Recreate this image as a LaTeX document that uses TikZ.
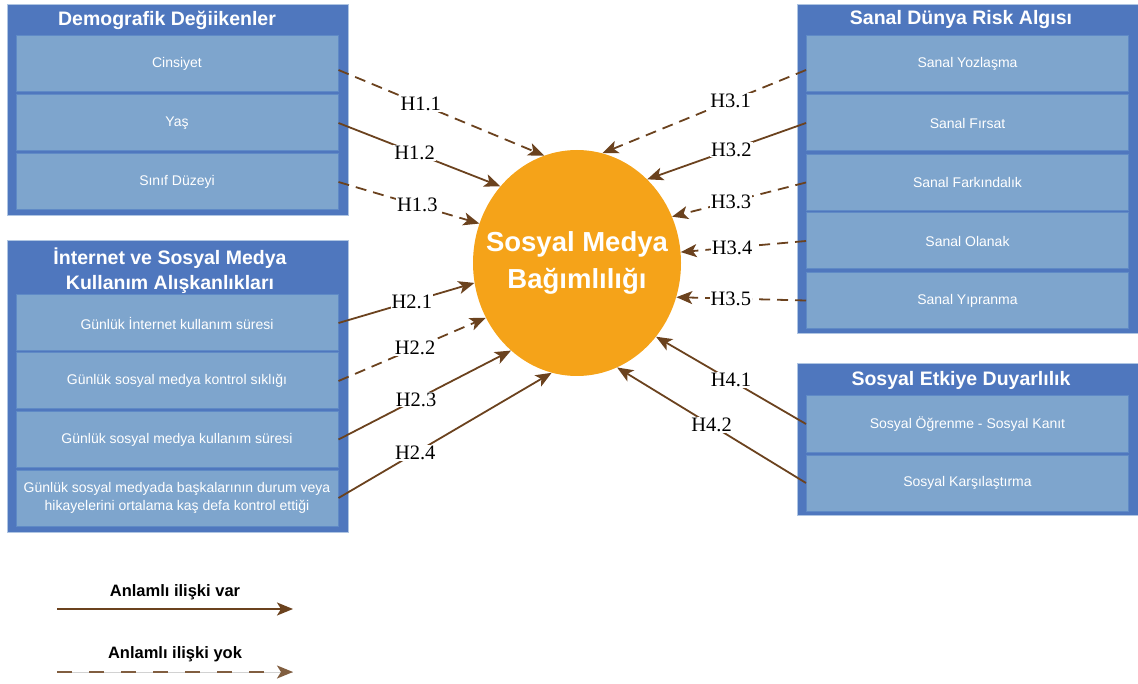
\documentclass[tikz,border=0pt]{standalone}
\usepackage{fontspec}
\setmainfont{Liberation Sans}
\newfontfamily\hfont{Liberation Serif}
\usetikzlibrary{arrows.meta,shapes.geometric}

\definecolor{koyumavi}{RGB}{79,119,190}
\definecolor{acikmavi}{RGB}{126,165,205}
\definecolor{cizgimavi}{RGB}{95,138,198}
\definecolor{turuncu}{RGB}{245,163,25}
\definecolor{kahve}{RGB}{107,66,30}

\tikzset{
  grup/.style={draw=cizgimavi!50!white, fill=koyumavi, line width=0.8pt, inner sep=0pt},
  satir/.style={fill=acikmavi, draw=cizgimavi, line width=1pt, minimum width=322pt, minimum height=56pt, inner sep=0pt, text=white, font=\fontsize{14}{18}\selectfont, align=center},
  baslik/.style={text=white, font=\bfseries\fontsize{19.5}{25}\selectfont, align=center, inner sep=0pt},
  var/.style={draw=kahve, line width=1.8pt, -{Stealth[length=16pt,width=13pt,inset=4pt]}},
  yok/.style={var, dash pattern=on 11pt off 7pt},
  hip/.style={fill=white, inner sep=1pt, font=\hfont\fontsize{20.5}{20}\selectfont},
}

\begin{document}
\begin{tikzpicture}[x=1pt,y=-1pt]
\useasboundingbox (0,0) rectangle (1138,684);

  % Demografik
\node[grup, minimum width=341pt, minimum height=211pt] (demo) at (177.5,109.5) {};
\node[baslik] (demobas) at (167,20) {Demografik Değiikenler};
\node[satir] (cins) at (177,64) {Cinsiyet};
\node[satir] (yas) at (177,123) {Yaş};
\node[satir] (sinif) at (177,182) {Sınıf Düzeyi};

  % Internet
\node[grup, minimum width=341pt, minimum height=292pt] (inet) at (177.5,386) {};
\node[baslik] (inetbas) at (170,271) {İnternet ve Sosyal Medya\\Kullanım Alışkanlıkları};
\node[satir] (gis) at (177,323) {Günlük İnternet kullanım süresi};
\node[satir] (gks) at (177,381) {Günlük sosyal medya kontrol sıklığı};
\node[satir] (gkul) at (177,439.5) {Günlük sosyal medya kullanım süresi};
\node[satir] (gdur) at (177,498) {Günlük sosyal medyada başkalarının durum veya\\hikayelerini ortalama kaş defa kontrol ettiği};

  % Sanal risk
\node[grup, minimum width=341pt, minimum height=329pt] (sanal) at (967.5,168.5) {};
\node[baslik] (sanalbas) at (961,20) {Sanal Dünya Risk Algısı};
\node[satir] (yoz) at (967.5,64) {Sanal Yozlaşma};
\node[satir] (firsat) at (967.5,123) {Sanal Fırsat};
\node[satir] (fark) at (967.5,182.5) {Sanal Farkındalık};
\node[satir] (olanak) at (967.5,241) {Sanal Olanak};
\node[satir] (yipr) at (967.5,300.5) {Sanal Yıpranma};

  % Sosyal etki
\node[grup, minimum width=341pt, minimum height=152pt] (etki) at (967.5,439) {};
\node[baslik] (etkibas) at (961,380) {Sosyal Etkiye Duyarlılık};
\node[satir] (ogren) at (967.5,424) {Sosyal Öğrenme - Sosyal Kanıt};
\node[satir] (kars) at (967.5,483) {Sosyal Karşılaştırma};

  % Merkez
\node[ellipse, fill=turuncu, minimum width=208pt, minimum height=226pt, inner sep=0pt] (smb) at (577,263) {};
\node[text=white, font=\bfseries\fontsize{27.5}{37}\selectfont, align=center] (smbyazi) at (smb.center) {Sosyal Medya\\Bağımlılığı};

  % Hipotezler
\draw[yok] ([yshift=-6pt]cins.east) -- (smb.107) node[hip,pos=0.4] {H1.1};
\draw[var] (yas.east) -- (smb.135) node[hip,pos=0.47] {H1.2};
\draw[yok] (sinif.east) -- (smb.158) node[hip,pos=0.56] {H1.3};
\draw[var] (gis.east) -- (smb.191) node[hip,pos=0.54] {H2.1};
\draw[yok] (gks.east) -- (smb.211) node[hip,pos=0.52] {H2.2};
\draw[var] (gkul.east) -- (smb.233) node[hip,pos=0.45] {H2.3};
\draw[var] (gdur.east) -- (smb.257) node[hip,pos=0.36] {H2.4};
\draw[yok] ([yshift=-6pt]yoz.west) -- (smb.77) node[hip,pos=0.37] {H3.1};
\draw[var] (firsat.west) -- (smb.50) node[hip,pos=0.47] {H3.2};
\draw[yok] (fark.west) -- (smb.26) node[hip,pos=0.56] {H3.3};
\draw[yok] (olanak.west) -- (smb.6) node[hip,pos=0.59] {H3.4};
\draw[yok] (yipr.west) -- (smb.341) node[hip,pos=0.58] {H3.5};
\draw[var] (ogren.west) -- (smb.317) node[hip,pos=0.5] {H4.1};
\draw[var] (kars.west) -- (smb.291.5) node[hip,pos=0.5] {H4.2};

  % Lejant
\node[font=\bfseries\fontsize{16.5}{18}\selectfont] (lvar) at (175,592) {Anlamlı ilişki var};
\coordinate (v1) at (57,609);
\coordinate (v2) at (293,609);
\draw[var] (v1) -- (v2);
\node[font=\bfseries\fontsize{16.5}{18}\selectfont] (lyok) at (175,654) {Anlamlı ilişki yok};
\coordinate (y1) at (57,672);
\coordinate (y2) at (293,672);
\draw[gray!35, line width=0.6pt] (y1) -- (y2);
\draw[var, draw=kahve!85!white, dash pattern=on 15pt off 17pt] (y1) -- (y2);
\end{tikzpicture}
\end{document}
